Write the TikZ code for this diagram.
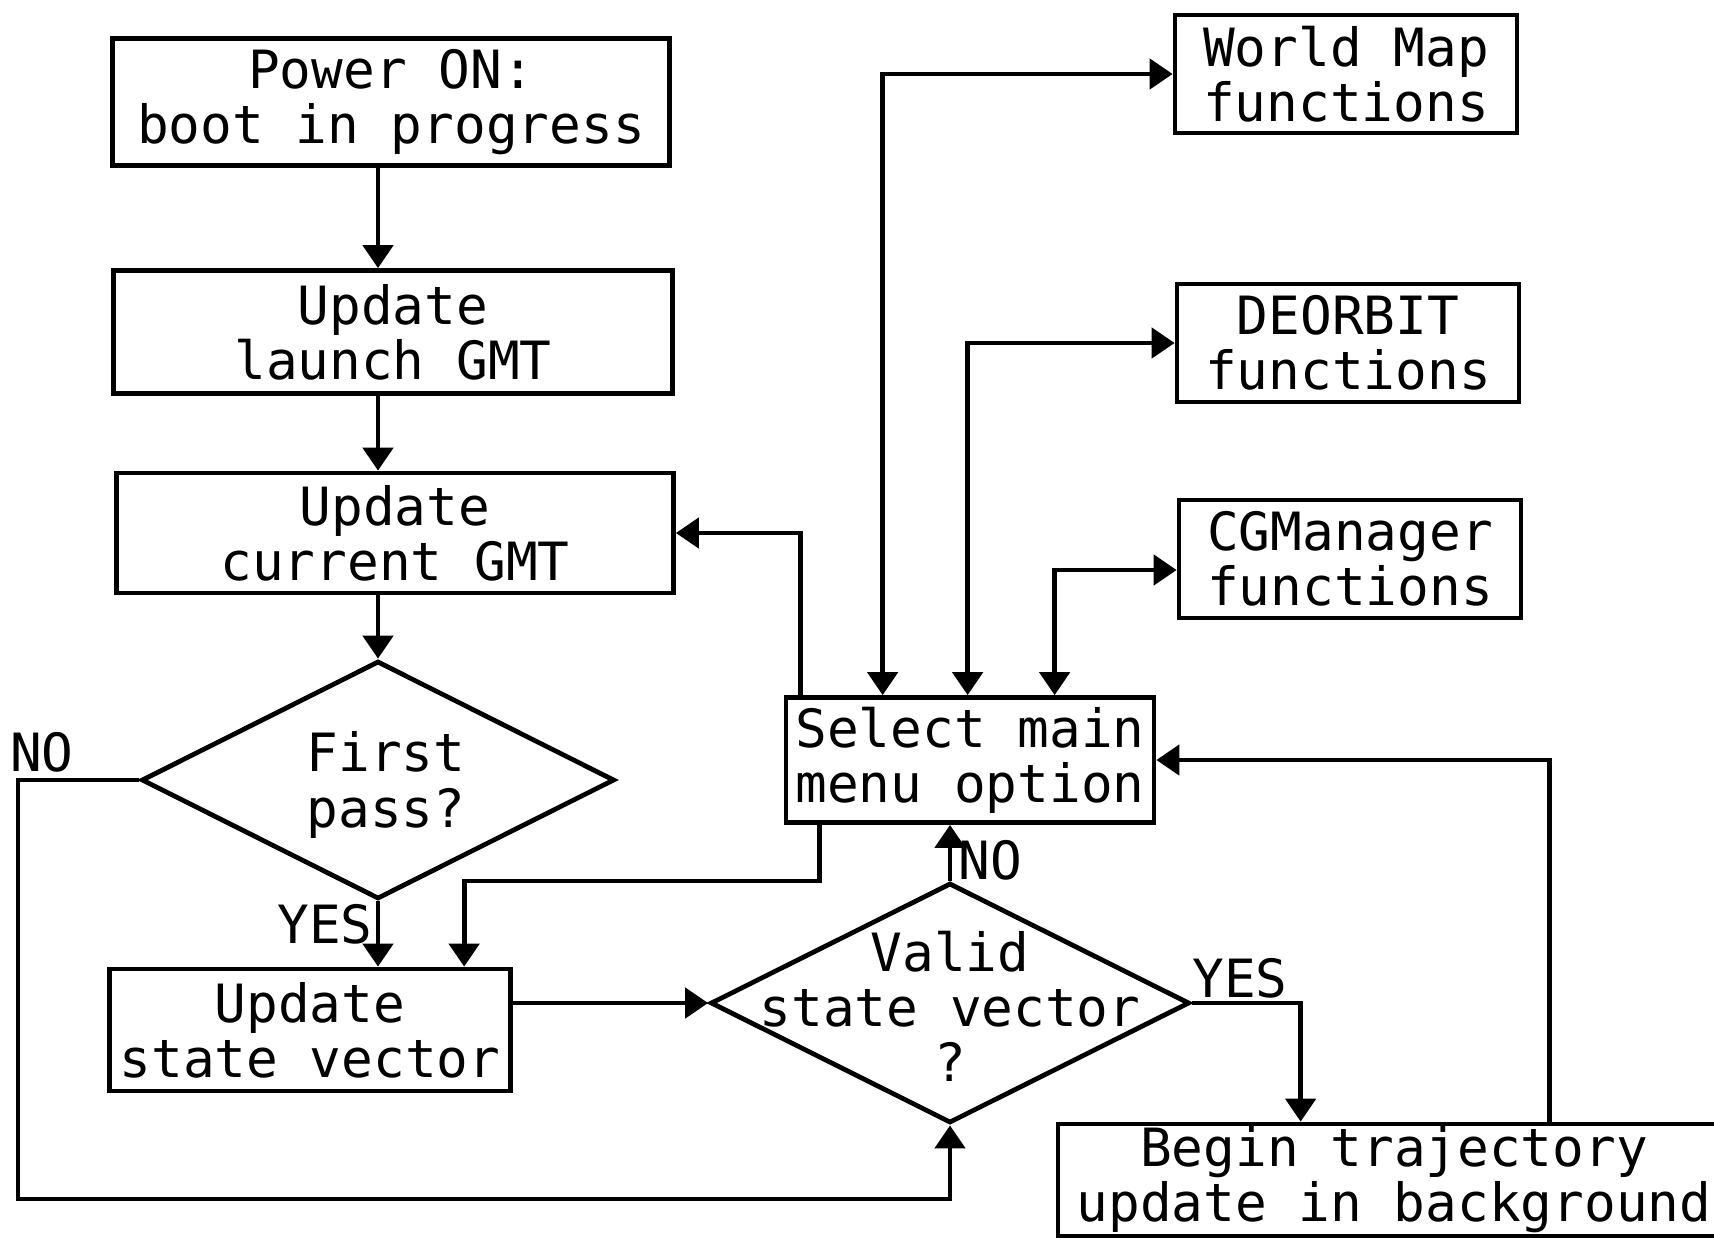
\documentclass[tikz,border=0pt]{standalone}
\usepackage{fontspec}
\setmainfont{DejaVu Sans Mono}
\usetikzlibrary{shapes.geometric,arrows.meta,calc}
\begin{document}
\begin{tikzpicture}[x=0.1mm,y=-0.1mm,
  line width=1.35pt,
  every node/.style={font=\fontsize{15}{15.7}\selectfont},
  box/.style={draw,rectangle,inner sep=0pt,align=center},
  dia/.style={draw,diamond,inner sep=0pt},
  lbl/.style={inner sep=0pt},
  arr/.style={-{Triangle[length=2.3mm,width=3mm]}},
  arr2/.style={{Triangle[length=2.3mm,width=3mm]}-{Triangle[length=2.3mm,width=3mm]}}]
\useasboundingbox (0,0) rectangle (1714,1237);

% boxes
\node[box,minimum width=55.7mm,minimum height=12.7mm] (pw) at (391,102) {Power ON:\\boot in progress};
\node[box,minimum width=55.9mm,minimum height=12.3mm] (lg) at (393,332) {Update\\launch GMT};
\node[box,minimum width=55.7mm,minimum height=12.0mm] (cur) at (395,533) {Update\\current GMT};
\node[box,minimum width=40.1mm,minimum height=12.2mm] (sv) at (310,1030) {Update\\state vector};
\node[box,minimum width=36.8mm,minimum height=12.5mm] (sel) at (970,760) {Select main\\menu option};
\node[box,minimum width=34.2mm,minimum height=11.8mm] (wm) at (1346,74) {World Map\\functions};
\node[box,minimum width=34.2mm,minimum height=11.8mm] (de) at (1348,343) {DEORBIT\\functions};
\node[box,minimum width=34.2mm,minimum height=11.8mm] (cgm) at (1350,559) {CGManager\\functions};
\node[box,minimum width=67.2mm,minimum height=11.2mm] (bt) at (1394,1180) {Begin trajectory\\update in background};

% decisions
\node[dia,minimum width=47.3mm,minimum height=23.8mm,
  label={[align=center,xshift=0.8mm,yshift=-0.5mm]center:{First\\pass?}}] (fp) at (378,780) {};
\node[dia,minimum width=47.9mm,minimum height=24.0mm,
  label={[align=center,yshift=-0.3mm]center:{Valid\\state vector\\?}}] (vs) at (950,1003) {};

% labels
\node[lbl] (noA) at (42,752) {NO};
\node[lbl] (yesA) at (325,924) {YES};
\node[lbl] (noB) at (990,860) {NO};
\node[lbl] (yesB) at (1240,978) {YES};

% main chain
\draw[arr] (pw.south -| fp.north) -- (lg.north -| fp.north);
\draw[arr] (lg.south -| fp.north) -- (cur.north -| fp.north);
\draw[arr] (cur.south -| fp.north) -- (fp.north);
\draw[arr] (fp.south) -- (sv.north -| fp.south);

% NO loop
\coordinate (noc) at (18,1199);
\draw[arr] (fp.west) -| (noc) -| (vs.south);

% state vector to decision
\draw[arr] (sv.east |- vs.west) -- (vs.west);
\draw[arr] (vs.north) -- (vs.north |- sel.south);
\draw[arr] (vs.east) -| ($(bt.north west)+(245,0)$);
\draw[arr] ($(bt.north west)+(494,0)$) |- (sel.east);

% select menu links
\draw[arr] ($(sel.north west)+(17,0)$) |- (cur.east);
\draw[arr] ($(sel.south west)+(36,0)$) -- ++(0,56) -| ($(sv.north west)+(357,0)$);
\draw[arr2] ($(sel.north west)+(99,0)$) |- (wm.west);
\draw[arr2] ($(sel.north west)+(184,0)$) |- (de.west);
\draw[arr2] ($(sel.north west)+(271,0)$) |- ($(cgm.west)+(0,11)$);
\end{tikzpicture}
\end{document}
